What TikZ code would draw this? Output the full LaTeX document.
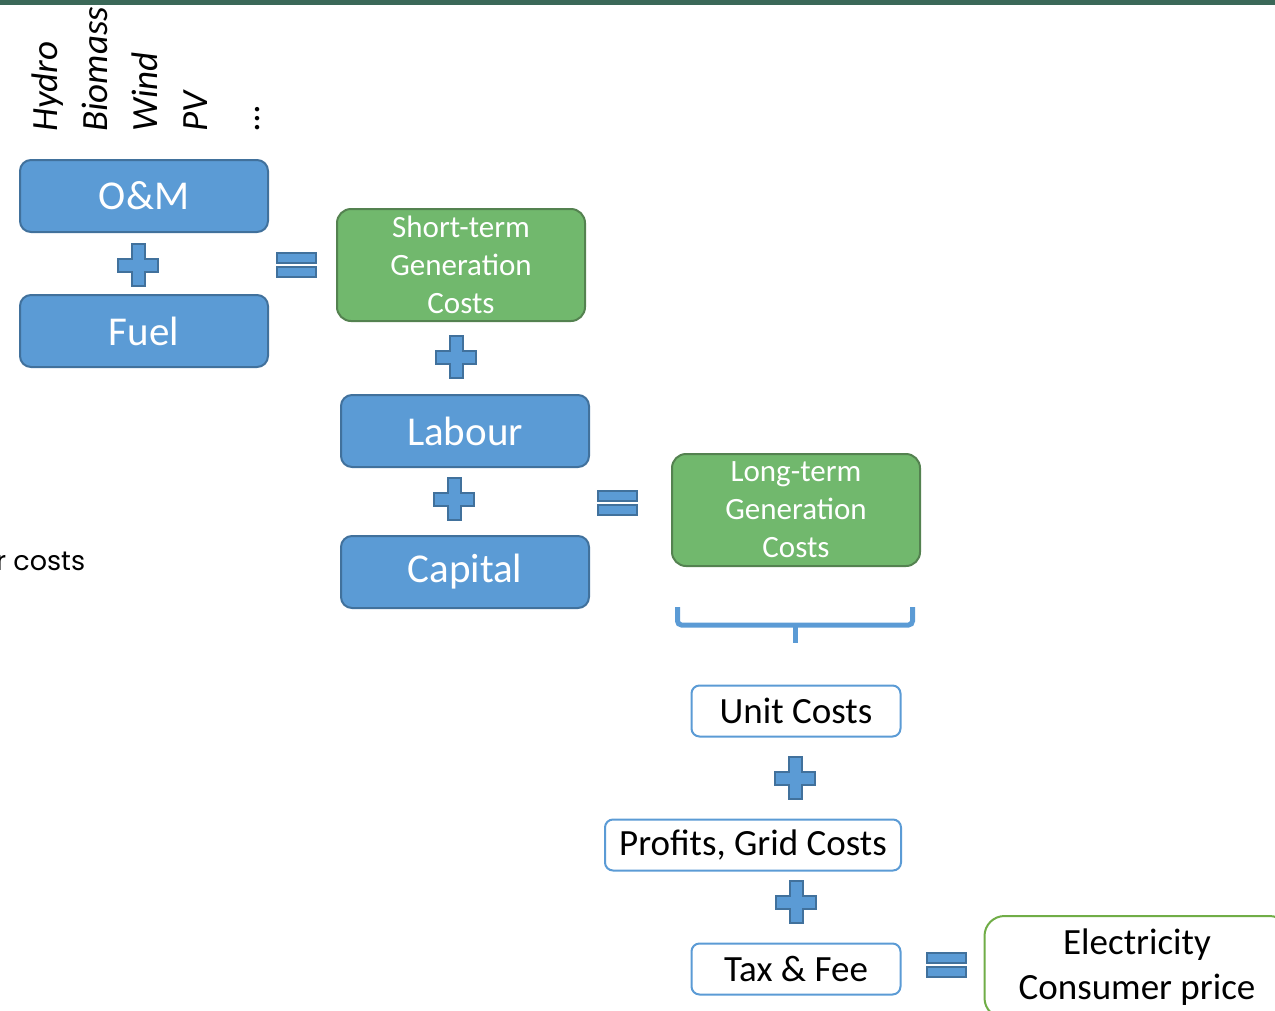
\documentclass[tikz,border=0pt]{standalone}
\usepackage{fontspec}
\setmainfont{Carlito}
\newfontfamily\gothicfont{Poppins}
\usepackage{xcolor}
\usetikzlibrary{calc}

\definecolor{blueFill}{RGB}{91,155,213}
\definecolor{blueLine}{RGB}{65,113,156}
\definecolor{greenFill}{RGB}{113,184,109}
\definecolor{greenLine}{RGB}{84,130,80}
\definecolor{lightGreen}{RGB}{112,173,71}
\definecolor{topBar}{RGB}{59,104,88}

\tikzset{
    opsym/.style={fill=blueFill, draw=blueLine, line width=2pt},
    plussign/.pic={
        \draw[opsym] (-6.5,-21) -- (6.5,-21) -- (6.5,-6.5) -- (20,-6.5) -- (20,6.5) -- (6.5,6.5)
            -- (6.5,21) -- (-6.5,21) -- (-6.5,6.5) -- (-20,6.5) -- (-20,-6.5) -- (-6.5,-6.5) -- cycle;
    },
    equalsign/.pic={
        \draw[opsym] (-19.5,-12.5) rectangle (19.5,-2.5);
        \draw[opsym] (-19.5,1.5) rectangle (19.5,11.5);
    }
}

\begin{document}
\begin{tikzpicture}[
        x=1pt, y=-1pt,
        bluebox/.style={draw=blueLine, fill=blueFill, line width=2pt, rounded corners=11pt,
            minimum width=248pt, minimum height=72pt, text=white,
            font=\fontsize{41}{49}\selectfont},
        greenbox/.style={draw=greenLine, fill=greenFill, line width=2pt, rounded corners=14pt,
            minimum width=248pt, minimum height=112pt, text=white, align=center,
            font=\fontsize{31}{38}\selectfont},
        whitebox/.style={draw=blueFill, fill=white, line width=2pt, rounded corners=8pt,
            minimum height=51pt, font=\fontsize{37}{44}\selectfont},
        pricebox/.style={draw=lightGreen, fill=white, line width=2pt, rounded corners=20pt,
            minimum width=305pt, minimum height=102pt, align=center,
            font=\fontsize{37}{45}\selectfont},
        tech/.style={rotate=90, anchor=base west, inner sep=0pt,
            font=\fontsize{37}{44}\selectfont\itshape},
        bracket/.style={draw=blueFill, line width=5pt}
    ]
    \useasboundingbox (0,0) rectangle (1275,1010);
    \fill[topBar] (0,0) rectangle (1275,5);

    % technologies
    \node[tech] (hydro) at (57,132) {Hydro};
    \node[tech] (biomass) at (107,132) {Biomass};
    \node[tech] (wind) at (157,132) {Wind};
    \node[tech] (pv) at (207,132) {PV};
    \node[tech] (more) at (259,132) {...};

    \node[anchor=base west, inner sep=0pt, font=\fontsize{27}{32}\selectfont\gothicfont] (other) at (-4,570) {r costs};

    % short-term costs
    \node[bluebox] (om) at (144,196) {O\&M};
    \node[bluebox] (fuel) at (144,331) {Fuel};
    \pic at (138,265) {plussign};
    \pic at (296,265) {equalsign};
    \node[greenbox] (short) at (461,265) {Short-term\\Generation\\Costs};

    % long-term costs
    \pic at (456,357) {plussign};
    \node[bluebox] (labour) at (465,431) {Labour};
    \pic at (454,499) {plussign};
    \node[bluebox] (capital) at (465,572) {Capital};
    \pic at (617,503) {equalsign};
    \node[greenbox] (long) at (796,510) {Long-term\\Generation\\Costs};

    % brace under long-term costs
    \draw[bracket, rounded corners=4pt] (677.5,607) -- (677.5,625) -- (912.5,625) -- (912.5,607);
    \draw[bracket] (795,625) -- (795,643);

    % consumer price
    \node[whitebox, minimum width=209pt] (unit) at (796,711) {Unit Costs};
    \pic at (795,778) {plussign};
    \node[whitebox, minimum width=296pt] (profits) at (753,845) {Profits, Grid Costs};
    \pic at (796,902) {plussign};
    \node[whitebox, minimum width=209pt] (tax) at (796,969) {Tax \& Fee};
    \pic at (946,965) {equalsign};
    \node[pricebox] (price) at (1137,967) {Electricity\\Consumer price};
\end{tikzpicture}
\end{document}
